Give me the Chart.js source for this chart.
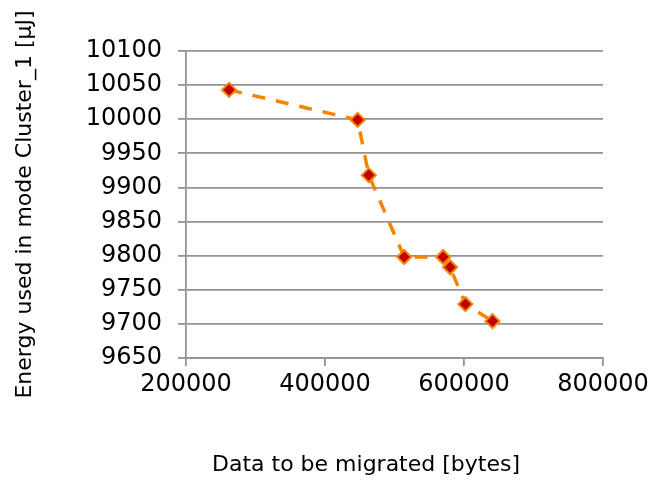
<!DOCTYPE html>
<html>
<head>
<meta charset="utf-8">
<script src="https://cdn.jsdelivr.net/npm/chart.js@4/dist/chart.umd.min.js"></script>
<style>
  html, body { margin: 0; padding: 0; background: #fff; }
  #wrap { width: 670px; height: 482px; position: relative; }
</style>
</head>
<body>
<div id="wrap"><canvas id="energyChart"></canvas></div>
<script>
// data
const dataBytes = [262000, 447000, 463000, 514000, 570000, 580000, 602000, 641000];
const energyUJ = [10043, 9999, 9918, 9798, 9798, 9783, 9729, 9704];
const xTitle = 'Data to be migrated [bytes]';
const yTitle = 'Energy used in mode Cluster_1 [μJ]';

const gridGray = '#939393';
const font = 'DejaVu Sans, Verdana, sans-serif';

// x title sits left of the plot centre in the original, so draw it by hand
const xTitlePlugin = {
  id: 'xTitle',
  afterDraw(chart) {
    const c = chart.ctx;
    c.save();
    c.font = '22px ' + font;
    c.fillStyle = '#000';
    c.textAlign = 'center';
    c.textBaseline = 'middle';
    c.fillText(xTitle, 366, 465);
    c.restore();
  }
};

const ctx = document.getElementById('energyChart');
new Chart(ctx, {
  type: 'scatter',
  data: {
    datasets: [{
      data: dataBytes.map((x, i) => ({ x: x, y: energyUJ[i] })),
      showLine: true,
      borderColor: '#f58400',
      borderWidth: 3.5,
      borderDash: [13, 11],
      pointStyle: 'rectRot',
      pointRadius: 7,
      pointHoverRadius: 7,
      pointBackgroundColor: '#c00000',
      pointBorderColor: '#f58400',
      pointBorderWidth: 2,
      tension: 0
    }]
  },
  options: {
    responsive: true,
    maintainAspectRatio: false,
    animation: false,
    layout: { padding: { left: 0, right: 67, top: 51, bottom: 0 } },
    plugins: { legend: { display: false }, tooltip: { enabled: false } },
    scales: {
      x: {
        type: 'linear',
        min: 200000, max: 800000,
        ticks: {
          stepSize: 200000, color: '#000', padding: 4,
          font: { family: font, size: 24 },
          callback: v => String(v),
          maxRotation: 0
        },
        grid: { drawOnChartArea: false, color: gridGray, lineWidth: 1.8, tickLength: 8 },
        border: { color: gridGray, width: 1.8 },
        title: { display: false },
        afterFit: s => { s.height = 124; }
      },
      y: {
        min: 9650, max: 10100,
        ticks: {
          stepSize: 50, color: '#000', padding: 16,
          font: { family: font, size: 24 },
          callback: v => String(v)
        },
        grid: { color: gridGray, lineWidth: 1.8, tickLength: 8 },
        border: { color: gridGray, width: 1.8 },
        title: { display: true, text: yTitle, color: '#000', font: { family: font, size: 22 }, padding: { top: 12, bottom: 0 } },
        afterFit: s => { s.width = 186; }
      }
    }
  },
  plugins: [xTitlePlugin]
});
</script>
</body>
</html>
